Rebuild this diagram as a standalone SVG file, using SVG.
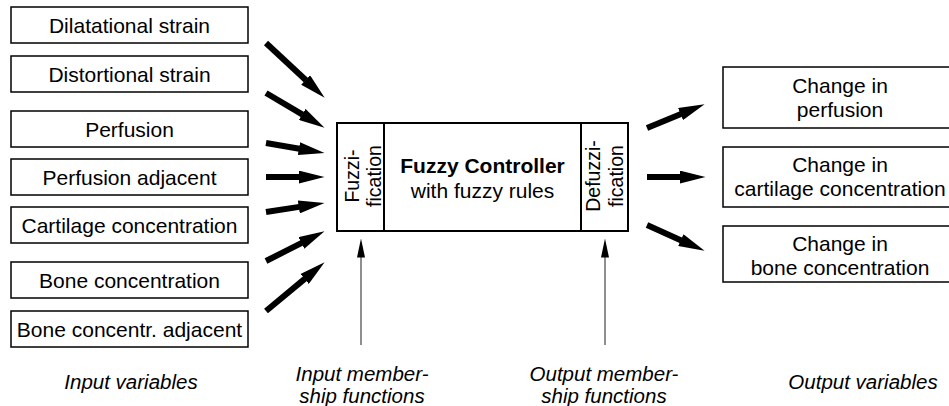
<svg xmlns="http://www.w3.org/2000/svg" width="949" height="406" viewBox="0 0 949 406">
  <style>
    .box { fill: #fff; stroke: #000; stroke-width: 1.5; }
    .main { fill: #fff; stroke: #000; stroke-width: 2; }
    .lbl { font-family: "Liberation Sans", Arial, sans-serif; font-size: 21px; fill: #000; text-anchor: middle; }
    .bold { font-weight: bold; }
    .rot { font-size: 19.5px; }
    .cap { font-family: "Liberation Sans", Arial, sans-serif; font-size: 20.5px; font-style: italic; fill: #000; text-anchor: middle; }
    .fat { stroke: #000; stroke-width: 6; fill: none; marker-end: url(#head); }
    .thin { stroke: #444; stroke-width: 1.2; fill: none; marker-end: url(#thinhead); }
  </style>
  <defs>
    <marker id="head" markerUnits="userSpaceOnUse" viewBox="0 0 26 13" markerWidth="26" markerHeight="13" refX="0.5" refY="6.5" orient="auto">
      <path d="M0,0 L26,6.5 L0,13 Z" fill="#000"/>
    </marker>
    <marker id="thinhead" markerUnits="userSpaceOnUse" viewBox="0 0 19 8" markerWidth="19" markerHeight="8" refX="0.5" refY="4" orient="auto">
      <path d="M0,0 L19,4 L0,8 Z" fill="#000"/>
    </marker>
  </defs>
  <rect width="949" height="406" fill="#fff"/>

  <!-- input variables -->
  <g id="in-dilatational">
    <rect class="box" x="11" y="7" width="237" height="36"/>
    <text class="lbl" x="129.5" y="32.5">Dilatational strain</text>
  </g>
  <g id="in-distortional">
    <rect class="box" x="11" y="56" width="237" height="36"/>
    <text class="lbl" x="129.5" y="81.5">Distortional strain</text>
  </g>
  <g id="in-perfusion">
    <rect class="box" x="11" y="111" width="237" height="36"/>
    <text class="lbl" x="129.5" y="136.5">Perfusion</text>
  </g>
  <g id="in-perfusion-adj">
    <rect class="box" x="11" y="159" width="237" height="36"/>
    <text class="lbl" x="129.5" y="184.5">Perfusion adjacent</text>
  </g>
  <g id="in-cartilage">
    <rect class="box" x="11" y="207" width="237" height="36"/>
    <text class="lbl" x="129.5" y="232.5">Cartilage concentration</text>
  </g>
  <g id="in-bone">
    <rect class="box" x="11" y="262" width="237" height="36"/>
    <text class="lbl" x="129.5" y="287.5">Bone concentration</text>
  </g>
  <g id="in-bone-adj">
    <rect class="box" x="11" y="311" width="237" height="36"/>
    <text class="lbl" x="129.5" y="336.5">Bone concentr. adjacent</text>
  </g>

  <!-- controller -->
  <g id="controller">
    <rect class="main" x="337" y="123" width="291" height="108"/>
    <line x1="384" y1="123" x2="384" y2="231" stroke="#000" stroke-width="2"/>
    <line x1="581" y1="123" x2="581" y2="231" stroke="#000" stroke-width="2"/>
    <text class="lbl rot" transform="translate(359,176) rotate(-90)">Fuzzi-</text>
    <text class="lbl rot" transform="translate(381,176) rotate(-90)">fication</text>
    <text class="lbl bold" x="482.5" y="172.5">Fuzzy Controller</text>
    <text class="lbl" x="482.5" y="198">with fuzzy rules</text>
    <text class="lbl rot" transform="translate(600,176) rotate(-90)">Defuzzi-</text>
    <text class="lbl rot" transform="translate(623,176) rotate(-90)">fication</text>
  </g>

  <!-- output variables -->
  <g id="out-perfusion">
    <rect class="box" x="723" y="67" width="240" height="61"/>
    <text class="lbl" x="840" y="93">Change in</text>
    <text class="lbl" x="840" y="117">perfusion</text>
  </g>
  <g id="out-cartilage">
    <rect class="box" x="723" y="147" width="240" height="60"/>
    <text class="lbl" x="840" y="172">Change in</text>
    <text class="lbl" x="840" y="196">cartilage concentration</text>
  </g>
  <g id="out-bone">
    <rect class="box" x="723" y="226" width="240" height="56"/>
    <text class="lbl" x="840" y="251">Change in</text>
    <text class="lbl" x="840" y="275">bone concentration</text>
  </g>

  <!-- captions -->
  <g id="cap-input">
    <text class="cap" x="131" y="389">Input variables</text>
  </g>
  <g id="cap-input-mf">
    <text class="cap" x="362" y="381">Input member-</text>
    <text class="cap" x="362" y="403">ship functions</text>
  </g>
  <g id="cap-output-mf">
    <text class="cap" x="604" y="381">Output member-</text>
    <text class="cap" x="604" y="403">ship functions</text>
  </g>
  <g id="cap-output">
    <text class="cap" x="863" y="389">Output variables</text>
  </g>

  <!-- connectors -->
  <g id="connectors">
    <line class="fat" x1="266" y1="43" x2="306.0" y2="80.3"/>
    <line class="fat" x1="266" y1="93" x2="302.6" y2="114.7"/>
    <line class="fat" x1="266" y1="143" x2="299.4" y2="148.7"/>
    <line class="fat" x1="266" y1="177" x2="299" y2="177"/>
    <line class="fat" x1="266" y1="212" x2="299.3" y2="206.9"/>
    <line class="fat" x1="266" y1="261" x2="301.8" y2="242.8"/>
    <line class="fat" x1="266" y1="311" x2="305.0" y2="278.6"/>
    <line class="fat" x1="647" y1="128" x2="681.0" y2="113.9"/>
    <line class="fat" x1="647" y1="177" x2="680" y2="177"/>
    <line class="fat" x1="647" y1="225" x2="681.3" y2="240.4"/>
    <line class="thin" x1="361" y1="345" x2="361" y2="257"/>
    <line class="thin" x1="605" y1="345" x2="605" y2="257"/>
  </g>
</svg>
